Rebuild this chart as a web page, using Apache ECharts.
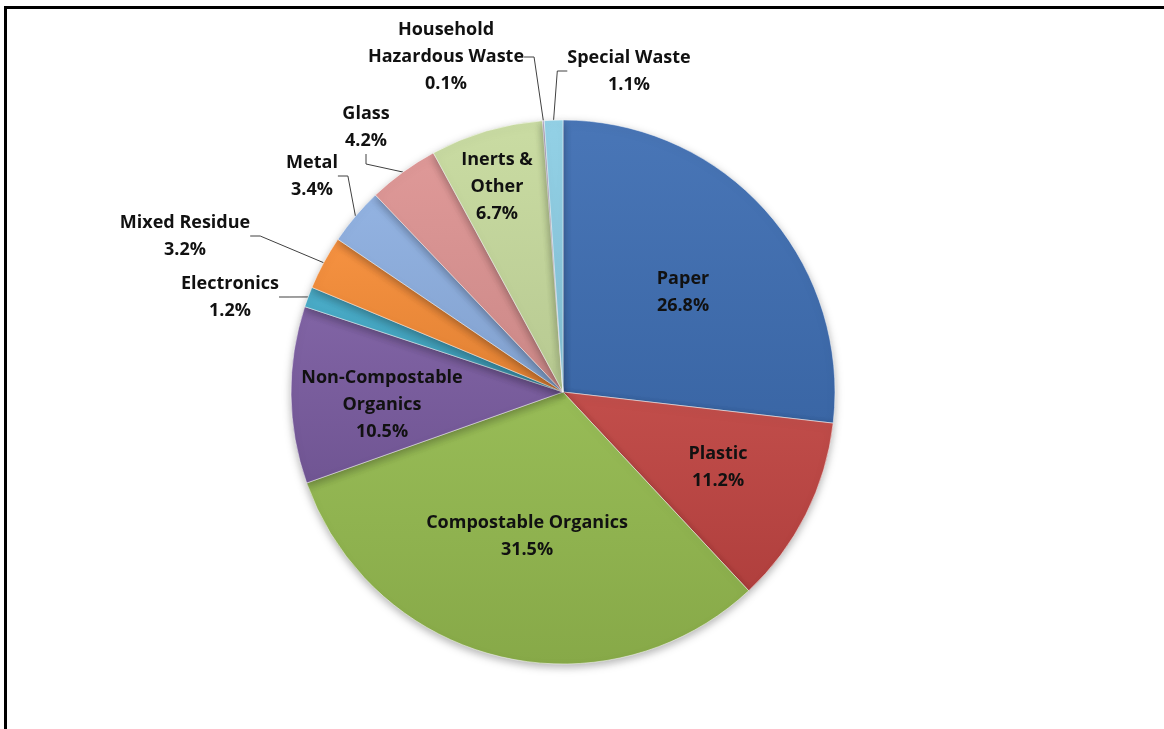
<!DOCTYPE html>
<html>
<head>
<meta charset="utf-8">
<script src="https://cdn.jsdelivr.net/npm/echarts@6/dist/echarts.min.js"></script>
<style>
  html, body { margin: 0; padding: 0; background: #fff; overflow: hidden; }
  #frame { position: absolute; left: 4px; top: 6px; width: 2000px; height: 2000px;
           border-top: 3px solid #000; border-left: 3px solid #000; }
  #chart { position: absolute; left: 0; top: 0; width: 1164px; height: 729px; }
</style>
</head>
<body>
<div id="frame"></div>
<div id="chart"></div>
<script>
// Waste composition, share of total (%), clockwise from 12 o'clock
const categories = [
  'Paper', 'Plastic', 'Compostable Organics', 'Non-Compostable\nOrganics',
  'Electronics', 'Mixed Residue', 'Metal', 'Glass', 'Inerts &\nOther',
  'Household\nHazardous Waste', 'Special Waste'
];
const shares = [26.8, 11.2, 31.5, 10.5, 1.2, 3.2, 3.4, 4.2, 6.7, 0.1, 1.1];

// slice colours
const sliceColors = [
  '#3F6FB3', '#BF4542', '#93B84E', '#7A5CA0', '#42A9C6', '#F58C37',
  '#8DAFE0', '#DD9493', '#C7DA9E', '#B5A3CB', '#8ED0E6'
];

// labels drawn inside the slice vs. outside with a leader line
const insideLabels = [true, true, true, true, false, false, false, false, true, false, false];

// label centres (px) for each slice
const labelPos = [
  [683, 292], [718, 467], [527, 536], [382, 405],
  [230, 297], [185, 236], [312, 176], [366, 127], [497, 187],
  [446, 57], [629, 71]
];

const CX = 563, CY = 392, R = 272;

// blend a hex colour towards another (t in 0..1)
function mix(hex, toward, t) {
  const a = parseInt(hex.slice(1), 16), b = parseInt(toward.slice(1), 16);
  const ch = s => Math.round(((a >> s) & 255) * (1 - t) + ((b >> s) & 255) * t);
  return 'rgb(' + ch(16) + ',' + ch(8) + ',' + ch(0) + ')';
}

// gentle shading: slightly lighter towards the top of each slice, darker at the bottom
function shaded(c) {
  return {
    type: 'linear', x: 0, y: 0, x2: 0, y2: 1,
    colorStops: [
      { offset: 0, color: mix(c, '#ffffff', 0.05) },
      { offset: 1, color: mix(c, '#000000', 0.08) }
    ]
  };
}

const chart = echarts.init(document.getElementById('chart'), null, { renderer: 'canvas' });

const data = categories.map((name, i) => ({
  name: name,
  value: shares[i],
  itemStyle: { color: shaded(sliceColors[i]) },
  label: { position: insideLabels[i] ? 'inside' : 'outside' },
  labelLine: { show: !insideLabels[i] }
}));

chart.setOption({
  animation: false,
  series: [{
    type: 'pie',
    center: [CX, CY],
    radius: R,
    startAngle: 90,
    clockwise: true,
    avoidLabelOverlap: false,
    data: data,
    itemStyle: {
      borderColor: 'rgba(255,255,255,0.5)',
      borderWidth: 1,
      shadowBlur: 8,
      shadowColor: 'rgba(0,0,0,0.30)',
      shadowOffsetY: 3
    },
    label: {
      show: true,
      formatter: p => p.name + '\n' + p.value.toFixed(1) + '%',
      fontFamily: 'Open Sans',
      fontWeight: 'bold',
      fontSize: 18,
      lineHeight: 27,
      color: '#111',
      align: 'center'
    },
    labelLine: {
      lineStyle: { color: '#404040', width: 1 },
      length: 10,
      length2: 10
    },
    labelLayout: function (params) {
      const p = labelPos[params.dataIndex];
      return { x: p[0], y: p[1], align: 'center', verticalAlign: 'middle' };
    },
    emphasis: { disabled: true }
  }]
});
</script>
</body>
</html>
